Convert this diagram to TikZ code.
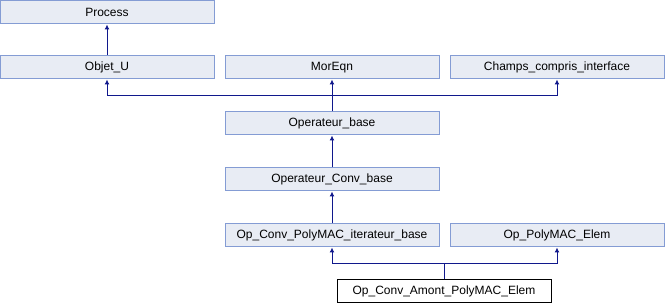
\documentclass[tikz,border=0pt]{standalone}
\usepackage{fontspec}
\setmainfont{Liberation Sans}
\usetikzlibrary{arrows.meta, positioning}
\definecolor{boxfill}{RGB}{232, 236, 244}
\definecolor{boxline}{RGB}{132, 156, 212}
\definecolor{edgeblue}{RGB}{16, 24, 140}

\begin{document}
\begin{tikzpicture}[x=1pt, y=-1pt,
        cls/.style={rectangle, draw=boxline, fill=boxfill, line width=1pt, minimum width=214pt, minimum height=23pt, inner sep=0pt, font=\fontsize{12}{14}\selectfont},
        leaf/.style={cls, draw=black, fill=white},
        inh/.style={draw=edgeblue, line width=1pt, -{Latex[length=5pt, width=5pt]}}
    ]
        \useasboundingbox (0, 0) rectangle (665, 304);

        \node[cls] (process) at (107, 12.5) {Process};
        \node[cls] (objetu) at (107, 67.5) {Objet\_U};
        \node[cls] (moreqn) at (332, 67.5) {MorEqn};
        \node[cls] (champs) at (557, 67.5) {Champs\_compris\_interface};
        \node[cls] (opbase) at (332, 123.5) {Operateur\_base};
        \node[cls] (opconv) at (332, 179.5) {Operateur\_Conv\_base};
        \node[cls] (iterbase) at (332, 235.5) {Op\_Conv\_PolyMAC\_iterateur\_base};
        \node[cls] (polyelem) at (557, 235.5) {Op\_PolyMAC\_Elem};
        \node[leaf] (amont) at (444, 291.5) {Op\_Conv\_Amont\_PolyMAC\_Elem};

        \coordinate (bustop) at (332, 96);
        \coordinate (buslow) at (444, 264);

        \draw[inh] (objetu) -- (process);
        \draw[inh] (opbase) -- (moreqn);
        \draw[draw=edgeblue, line width=1pt] (opbase.north) -- (bustop);
        \draw[inh] (bustop) -| (objetu.south);
        \draw[inh] (bustop) -| (champs.south);
        \draw[inh] (opconv) -- (opbase);
        \draw[inh] (iterbase) -- (opconv);
        \draw[draw=edgeblue, line width=1pt] (amont.north) -- (buslow);
        \draw[inh] (buslow) -| (iterbase.south);
        \draw[inh] (buslow) -| (polyelem.south);
    \end{tikzpicture}
\end{document}
